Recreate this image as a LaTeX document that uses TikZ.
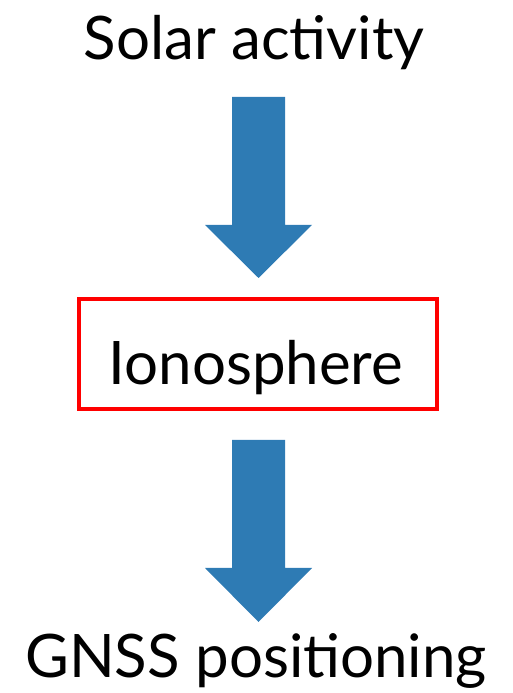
\documentclass[tikz,border=0pt]{standalone}
\usepackage{fontspec}
\setmainfont{Lato}
\definecolor{arrowblue}{HTML}{2E7BB4}
\definecolor{boxred}{HTML}{FF0000}
\begin{document}
\begin{tikzpicture}[x=1pt,y=1pt,
  lbl/.style={font=\fontsize{60}{66}\selectfont, inner sep=0pt, anchor=base},
  fatarrow/.style={fill=arrowblue, draw=none}]
\useasboundingbox (0,0) rectangle (512,693);
\node[lbl] (solar) at (254,633) {Solar activity};
\node[draw=boxred, line width=4.5pt, minimum width=358pt, minimum height=110pt, inner sep=0pt] (iono) at (258,339) {};
\node[lbl] at (256,308) {Ionosphere};
\node[lbl] (gnss) at (256,15) {GNSS positioning};
% arrow 1
\fill[fatarrow] (232,596) -- (285,596) -- (285,468) -- (312,468) -- (258.5,415) -- (205,468) -- (232,468) -- cycle;
% arrow 2
\fill[fatarrow] (232,253) -- (285,253) -- (285,125) -- (312,125) -- (258.5,71) -- (205,125) -- (232,125) -- cycle;
\end{tikzpicture}
\end{document}
